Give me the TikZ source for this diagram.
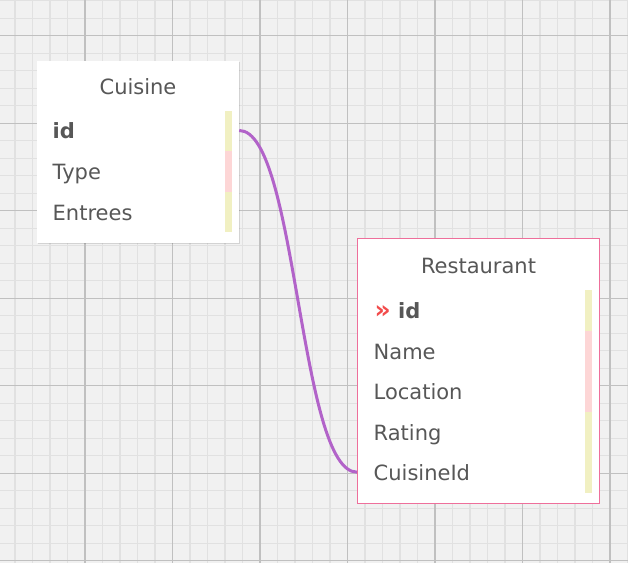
\documentclass[tikz,border=0pt]{standalone}
\usepackage{fontspec}
\setmainfont{DejaVu Sans}
\usetikzlibrary{shadows}

\definecolor{gridbg}{HTML}{F1F1F1}
\definecolor{gridminor}{HTML}{E1E1E1}
\definecolor{gridmajor}{HTML}{C0C0C0}
\definecolor{textgray}{HTML}{575757}
\definecolor{rowyellow}{HTML}{F1F0C2}
\definecolor{rowpink}{HTML}{FDD6D6}
\definecolor{tablepink}{HTML}{EE6F9B}
\definecolor{keyred}{HTML}{F24B4B}
\definecolor{linkpurple}{HTML}{B263C9}

\begin{document}
\begin{tikzpicture}[x=1pt, y=-1pt,
    minorline/.style={draw=gridminor, line width=1.2pt},
    majorline/.style={draw=gridmajor, line width=1.3pt},
    tablebox/.style={fill=white, inner sep=0pt,
                     drop shadow={shadow xshift=0.5pt, shadow yshift=-1pt,
                                  fill=black, opacity=0.12}},
    title/.style={anchor=base, inner sep=0pt, text=textgray,
                  font=\fontsize{21}{24}\selectfont},
    field/.style={anchor=base west, inner sep=0pt, text=textgray,
                  font=\fontsize{21}{24}\selectfont},
    keyfield/.style={field, font=\fontsize{21}{24}\selectfont\bfseries},
    link/.style={draw=linkpurple, line width=3pt}
  ]
  \useasboundingbox (0,0) rectangle (628,563);
  \fill[gridbg] (0,0) rectangle (628,563);

  \begin{scope}
    \clip (0,0) rectangle (628,563);
    \foreach \i in {0,...,35}
      \draw[minorline] ({15+17.5*\i},0) -- ++(0,563);
    \foreach \i in {0,...,32}
      \draw[minorline] (0,{0.7+17.5*\i}) -- ++(628,0);
    \foreach \i in {0,...,6}
      \draw[majorline] ({85+87.5*\i},0) -- ++(0,563);
    \foreach \i in {0,...,6}
      \draw[majorline] (0,{35.7+87.5*\i}) -- ++(628,0);
  \end{scope}

  \node[tablebox, minimum width=202pt, minimum height=182pt] (cuisine) at (138,151.5) {};
  \node[title] (cuisine-title) at (138,94) {Cuisine};
  \fill[rowyellow] (225,111) rectangle (232,151);
  \fill[rowpink] (225,151) rectangle (232,192);
  \fill[rowyellow] (225,192) rectangle (232,232);
  \node[keyfield] (c-id) at (52.5,138.3) {id};
  \node[field] (c-type) at (52.5,179) {Type};
  \node[field] (c-entrees) at (52.5,220) {Entrees};

  \node[tablebox, draw=tablepink, line width=1pt, minimum width=242pt,
        minimum height=265pt] (restaurant) at (478.5,370.8) {};
  \node[title] (restaurant-title) at (478.5,273.3) {Restaurant};
  \fill[rowyellow] (585,290) rectangle (592,331);
  \fill[rowpink] (585,331) rectangle (592,411.7);
  \fill[rowyellow] (585,411.7) rectangle (592,492.7);
  \node[keyfield, text=keyred, font=\fontsize{25}{28}\selectfont\bfseries]
    (r-key) at (374.5,318.3) {»};
  \node[keyfield] (r-id) at (398,318.3) {id};
  \node[field] (r-name) at (373.5,359) {Name};
  \node[field] (r-location) at (373.5,399.3) {Location};
  \node[field] (r-rating) at (373.5,440) {Rating};
  \node[field] (r-cuisineid) at (373.5,480) {CuisineId};

  \draw[link] (cuisine.east |- c-id) .. controls +(58,0) and +(-58,0)
    .. (restaurant.west |- r-cuisineid);
\end{tikzpicture}
\end{document}
